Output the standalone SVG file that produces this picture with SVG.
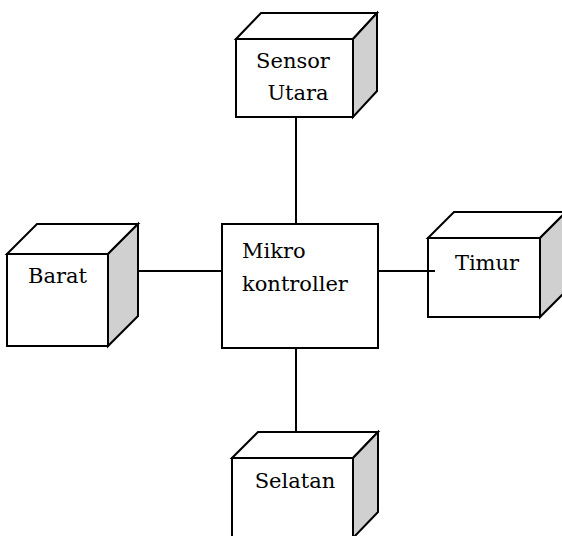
<svg xmlns="http://www.w3.org/2000/svg" width="562" height="536" viewBox="0 0 562 536">
<style>
.f{fill:#fff;stroke:#000;stroke-width:2;stroke-linejoin:miter}
.s{fill:#d0d0d0;stroke:#000;stroke-width:2}
.c{stroke:#000;stroke-width:2;fill:none}
.t{font-family:'DejaVu Serif',serif;font-size:21px;fill:#000}
</style>
<rect width="562" height="536" fill="#fff"/>
<g id="connectors">
<line class="c" x1="296" y1="117" x2="296" y2="224"/>
<line class="c" x1="138" y1="271" x2="222" y2="271"/>
<line class="c" x1="378" y1="271" x2="435" y2="271"/>
<line class="c" x1="296" y1="348" x2="296" y2="432"/>
</g>
<g id="sensor-utara">
<polygon class="f" points="236,39 261,13 377,13 353,39"/>
<polygon class="s" points="353,39 377,13 377,91 353,117"/>
<rect class="f" x="236" y="39" width="117" height="78"/>
<text class="t" x="293" y="68" text-anchor="middle">Sensor</text>
<text class="t" x="298" y="100" text-anchor="middle">Utara</text>
</g>
<g id="barat">
<polygon class="f" points="7,254 37,224 138,224 108,254"/>
<polygon class="s" points="108,254 138,224 138,316 108,346"/>
<rect class="f" x="7" y="254" width="101" height="92"/>
<text class="t" x="57.5" y="283" text-anchor="middle">Barat</text>
</g>
<g id="mikrokontroller">
<rect class="f" x="222" y="224" width="156" height="124"/>
<text class="t" x="242" y="258">Mikro</text>
<text class="t" x="242" y="291">kontroller</text>
</g>
<g id="timur">
<polygon class="f" points="428,238 454,212 566,212 540,238"/>
<polygon class="s" points="540,238 566,212 566,291 540,317"/>
<rect class="f" x="428" y="238" width="112" height="79"/>
<line class="c" x1="428" y1="271" x2="435" y2="271"/>
<text class="t" x="487" y="270" text-anchor="middle">Timur</text>
</g>
<g id="selatan">
<polygon class="f" points="232,458 258,432 378,432 353,458"/>
<polygon class="s" points="353,458 378,432 378,512 353,538"/>
<rect class="f" x="232" y="458" width="121" height="80"/>
<text class="t" x="295" y="488" text-anchor="middle">Selatan</text>
</g>
</svg>
